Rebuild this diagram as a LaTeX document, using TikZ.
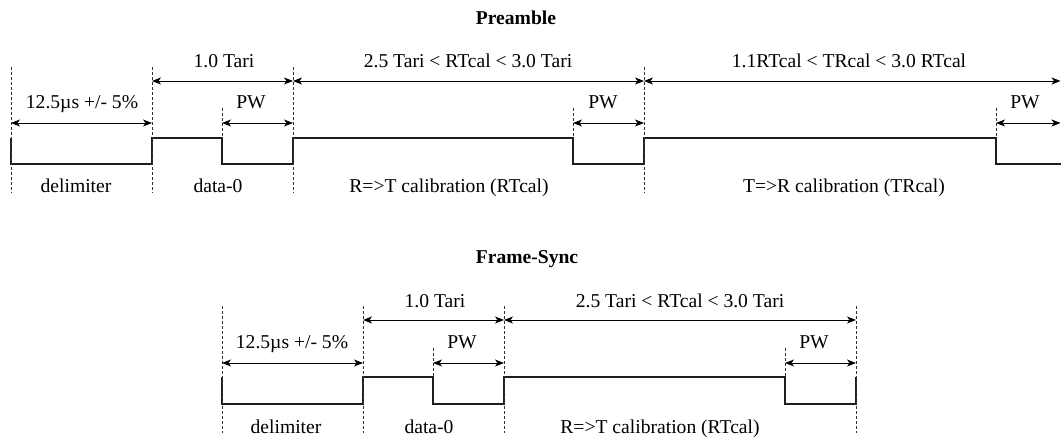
\documentclass[tikz,border=0pt]{standalone}
\usepackage{fontspec}
\setmainfont{Liberation Serif}
\usetikzlibrary{arrows.meta}
\begin{document}
\begin{tikzpicture}[x=1pt,y=-1pt,
  sig/.style={line width=2.8pt, line join=miter, color=black!88},
  dim/.style={line width=0.9pt, {Stealth[length=9pt,width=7pt,inset=2.5pt]}-{Stealth[length=9pt,width=7pt,inset=2.5pt]}},
  guide/.style={line width=0.8pt, dash pattern=on 3pt off 2pt, color=black!80},
  lbl/.style={anchor=base, inner sep=0pt, font=\fontsize{19.6}{23}\selectfont},
  ttl/.style={anchor=base, inner sep=0pt, font=\fontsize{19.6}{23}\selectfont\bfseries}]
\useasboundingbox (0,0) rectangle (1061,438);

% ---------------- Preamble ----------------
\foreach \n/\x in {0/11,1/152,2/222,3/293,4/573,5/644,6/996,7/1060.5}
  \coordinate (t\n) at (\x,0);

\node[ttl] (preamble) at (516,25) {Preamble};

\draw[sig] (t0|-0,138) -- (t0|-0,164) -- (t1|-0,164) -- (t1|-0,138)
  -- (t2|-0,138) -- (t2|-0,164) -- (t3|-0,164) -- (t3|-0,138)
  -- (t4|-0,138) -- (t4|-0,164) -- (t5|-0,164) -- (t5|-0,138)
  -- (t6|-0,138) -- (t6|-0,164) -- (t7|-0,164);

\foreach \n in {0,1,3,5} \draw[guide] (t\n|-0,67) -- (t\n|-0,193);
\foreach \n in {2,4,6} \draw[guide] (t\n|-0,108) -- (t\n|-0,138);

\draw[dim] (t1|-0,81) -- (t3|-0,81);
\draw[dim] (t3|-0,81) -- (t5|-0,81);
\draw[dim] (t5|-0,81) -- (t7|-0,81);
\draw[dim] (t0|-0,123) -- (t1|-0,123);
\draw[dim] (t2|-0,123) -- (t3|-0,123);
\draw[dim] (t4|-0,123) -- (t5|-0,123);
\draw[dim] (t6|-0,123) -- (t7|-0,123);

\node[lbl] (ptari) at (224,68) {1.0 Tari};
\node[lbl] (prt) at (468,68) {2.5 Tari < RTcal < 3.0 Tari};
\node[lbl] (ptr) at (849,68) {1.1RTcal < TRcal < 3.0 RTcal};
\node[lbl] (pdel) at (82,109) {12.5µs +/- 5\%};
\node[lbl] (ppw1) at (251,109) {PW};
\node[lbl] (ppw2) at (603,109) {PW};
\node[lbl] (ppw3) at (1025,109) {PW};
\node[lbl] (pdl) at (76,193) {delimiter};
\node[lbl] (pd0) at (218,193) {data-0};
\node[lbl] (prtc) at (449,193) {R=>T calibration (RTcal)};
\node[lbl] (ptrc) at (844,193) {T=>R calibration (TRcal)};

% ---------------- Frame-Sync ----------------
\foreach \n/\x in {0/222,1/363,2/433,3/504,4/785,5/856}
  \coordinate (b\n) at (\x,0);

\node[ttl] (framesync) at (527,264) {Frame-Sync};

\draw[sig] (b0|-0,377) -- (b0|-0,404) -- (b1|-0,404) -- (b1|-0,377)
  -- (b2|-0,377) -- (b2|-0,404) -- (b3|-0,404) -- (b3|-0,377)
  -- (b4|-0,377) -- (b4|-0,404) -- (b5|-0,404) -- (b5|-0,377);

\foreach \n in {0,1,3,5} \draw[guide] (b\n|-0,306) -- (b\n|-0,433);
\foreach \n in {2,4} \draw[guide] (b\n|-0,348) -- (b\n|-0,377);

\draw[dim] (b1|-0,320) -- (b3|-0,320);
\draw[dim] (b3|-0,320) -- (b5|-0,320);
\draw[dim] (b0|-0,363) -- (b1|-0,363);
\draw[dim] (b2|-0,363) -- (b3|-0,363);
\draw[dim] (b4|-0,363) -- (b5|-0,363);

\node[lbl] (ftari) at (435,308) {1.0 Tari};
\node[lbl] (frt) at (680,308) {2.5 Tari < RTcal < 3.0 Tari};
\node[lbl] (fdel) at (292,349) {12.5µs +/- 5\%};
\node[lbl] (fpw1) at (462,349) {PW};
\node[lbl] (fpw2) at (814,349) {PW};
\node[lbl] (fdl) at (286,433) {delimiter};
\node[lbl] (fd0) at (429,433) {data-0};
\node[lbl] (frtc) at (660,433) {R=>T calibration (RTcal)};
\end{tikzpicture}
\end{document}
